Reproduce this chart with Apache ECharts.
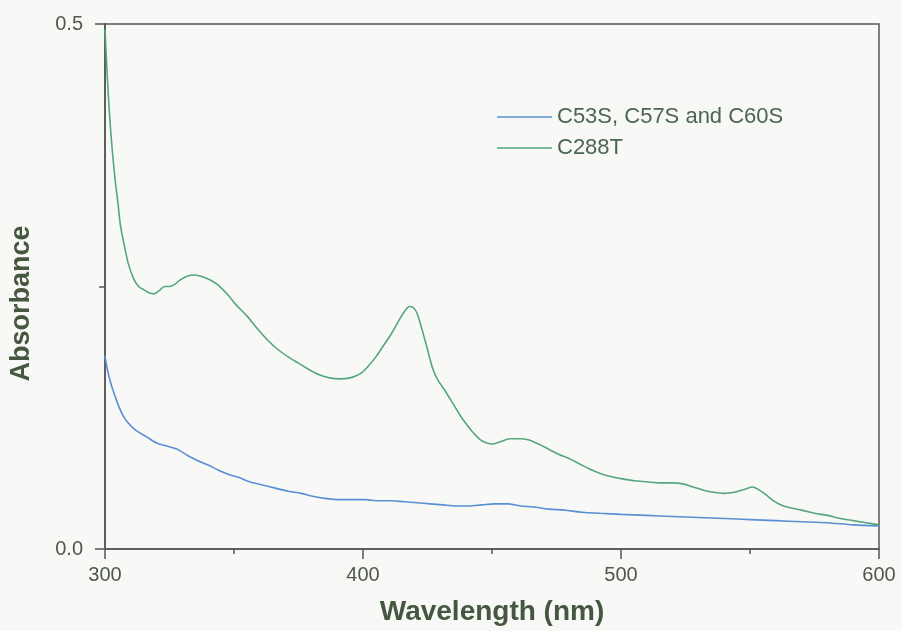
<!DOCTYPE html>
<html>
<head>
<meta charset="utf-8">
<script src="https://cdn.jsdelivr.net/npm/echarts@6/dist/echarts.min.js"></script>
<style>
  html, body { margin: 0; padding: 0; background: #f8f8f7; }
  #chart { width: 902px; height: 631px; }
</style>
</head>
<body>
<div id="chart"></div>
<script>
// Absorption spectra of the two cytochrome variants

const seriesNames = ['C53S, C57S and C60S', 'C288T'];

// C53S, C57S and C60S variant
const wavelengthTriple = [300, 301, 302, 303, 305, 307, 309, 312, 316, 320, 324, 328, 332, 336, 340, 344, 348, 352, 356, 361, 366, 371, 376, 381, 386, 391, 396, 401, 406, 411, 416, 421, 426, 431, 436, 441, 446, 451, 456, 461, 466, 472, 478, 485, 492, 500, 510, 520, 530, 540, 550, 560, 570, 580, 590, 600];
const absorbanceTriple = [0.184, 0.170, 0.160, 0.152, 0.138, 0.127, 0.120, 0.113, 0.107, 0.101, 0.098, 0.095, 0.089, 0.084, 0.080, 0.075, 0.071, 0.068, 0.064, 0.061, 0.058, 0.055, 0.053, 0.050, 0.048, 0.047, 0.047, 0.047, 0.046, 0.046, 0.045, 0.044, 0.043, 0.042, 0.041, 0.041, 0.042, 0.043, 0.043, 0.041, 0.040, 0.038, 0.037, 0.035, 0.034, 0.033, 0.032, 0.031, 0.030, 0.029, 0.028, 0.027, 0.026, 0.025, 0.023, 0.022];

// C288T variant
const wavelengthC288T = [300, 301, 302, 303, 304, 305, 306, 307.5, 309, 311, 313, 315, 317, 319, 321, 323, 325, 327, 329, 332, 335, 338, 341, 344, 348, 351, 355, 359, 363, 367, 371, 375, 379, 383, 387, 391, 395, 399, 402, 405, 408, 411, 414, 416, 418, 419.5, 421, 423, 425, 427, 429, 432, 435, 438, 441, 443, 445.5, 448, 450, 453, 457, 461, 464, 468, 472, 476, 480, 484, 488, 492, 496, 500, 505, 510, 515, 520, 524, 528, 532, 536, 540, 544, 548, 551, 553, 556, 559, 562, 566, 570, 575, 580, 585, 590, 595, 600];
const absorbanceC288T = [0.495, 0.445, 0.405, 0.375, 0.350, 0.330, 0.308, 0.289, 0.272, 0.258, 0.250, 0.247, 0.244, 0.243, 0.246, 0.250, 0.250, 0.252, 0.256, 0.260, 0.261, 0.259, 0.256, 0.251, 0.241, 0.232, 0.222, 0.210, 0.199, 0.190, 0.183, 0.177, 0.171, 0.166, 0.163, 0.162, 0.163, 0.167, 0.174, 0.183, 0.194, 0.205, 0.218, 0.226, 0.231, 0.230, 0.224, 0.208, 0.190, 0.172, 0.161, 0.150, 0.138, 0.126, 0.116, 0.110, 0.104, 0.101, 0.100, 0.102, 0.105, 0.105, 0.104, 0.100, 0.095, 0.090, 0.086, 0.081, 0.076, 0.072, 0.069, 0.067, 0.065, 0.064, 0.063, 0.063, 0.062, 0.059, 0.056, 0.054, 0.053, 0.054, 0.057, 0.059, 0.057, 0.052, 0.046, 0.042, 0.039, 0.037, 0.034, 0.032, 0.029, 0.027, 0.025, 0.023];

const xTickLabels = [300, 400, 500, 600];
const yTickLabels = ['0.0', '0.5'];

const zip = (xs, ys) => xs.map((x, i) => [x, ys[i]]);

const axisColor = '#555555';
const tickTextColor = '#4f584a';
const titleColor = '#46573f';
const fontFamily = '"Liberation Sans", Arial, sans-serif';

const chart = echarts.init(document.getElementById('chart'));
chart.setOption({
  backgroundColor: '#f8f8f7',
  animation: false,
  grid: {
    left: 104, right: 23, top: 24, bottom: 79,
    show: true, borderColor: axisColor, borderWidth: 1.5,
    backgroundColor: 'transparent'
  },
  legend: {
    orient: 'vertical',
    left: 497, top: 106,
    padding: 0,
    icon: 'rect',
    itemWidth: 55, itemHeight: 1.6, itemGap: 9,
    textStyle: { fontFamily, fontSize: 22, lineHeight: 22, color: '#4b6650' },
    data: seriesNames
  },
  xAxis: {
    type: 'value', min: 300, max: 600, interval: 100,
    name: 'Wavelength (nm)', nameLocation: 'middle', nameGap: 49,
    nameTextStyle: { fontFamily, fontSize: 28, fontWeight: 'bold', color: titleColor },
    axisLine: { lineStyle: { color: axisColor, width: 1.5 } },
    axisTick: { length: 10, lineStyle: { color: axisColor, width: 1.5 } },
    minorTick: { show: true, splitNumber: 2, length: 5, lineStyle: { color: axisColor, width: 1.5 } },
    axisLabel: {
      margin: 16, fontFamily, fontSize: 20, color: tickTextColor,
      formatter: v => xTickLabels.includes(v) ? String(v) : ''
    },
    splitLine: { show: false }
  },
  yAxis: {
    type: 'value', min: 0, max: 0.5, interval: 0.5,
    name: 'Absorbance', nameLocation: 'middle', nameGap: 70,
    nameTextStyle: { fontFamily, fontSize: 27, fontWeight: 'bold', color: titleColor, padding: [0, 34, 0, 0] },
    axisLine: { lineStyle: { color: axisColor, width: 1.5 } },
    axisTick: { length: 10, lineStyle: { color: axisColor, width: 1.5 } },
    minorTick: { show: true, splitNumber: 2, length: 6, lineStyle: { color: axisColor, width: 1.5 } },
    axisLabel: {
      margin: 22, fontFamily, fontSize: 20, color: tickTextColor,
      formatter: v => v === 0 ? yTickLabels[0] : (v === 0.5 ? yTickLabels[1] : '')
    },
    splitLine: { show: false }
  },
  series: [
    {
      name: seriesNames[0], type: 'line', symbol: 'none', smooth: 0.3,
      data: zip(wavelengthTriple, absorbanceTriple),
      lineStyle: { color: '#5b8fd3', width: 1.6 },
      itemStyle: { color: '#5b8fd3' }
    },
    {
      name: seriesNames[1], type: 'line', symbol: 'none', smooth: 0.3,
      data: zip(wavelengthC288T, absorbanceC288T),
      lineStyle: { color: '#55a67c', width: 1.6 },
      itemStyle: { color: '#55a67c' }
    }
  ]
});
</script>
</body>
</html>
